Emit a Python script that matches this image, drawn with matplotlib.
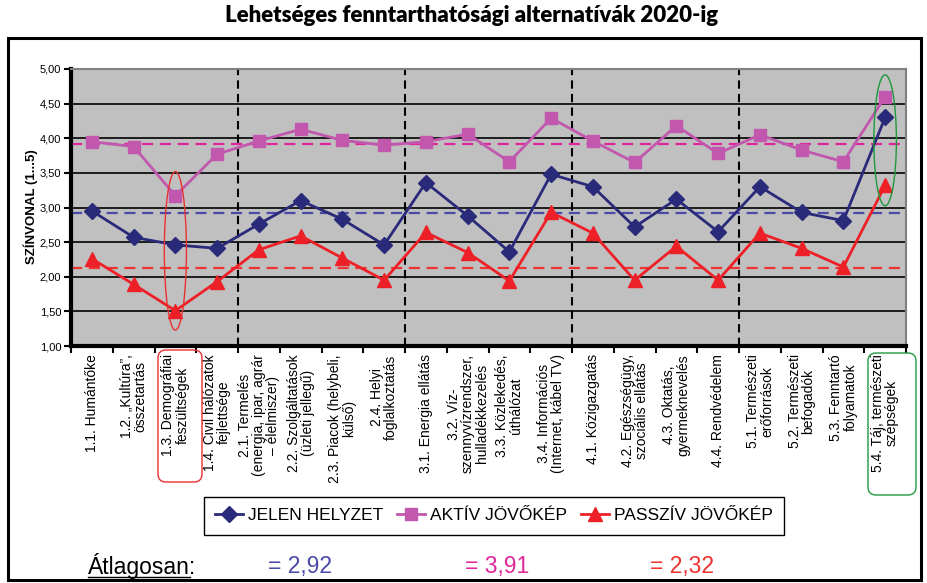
import numpy as np
import matplotlib
matplotlib.use('Agg')
import matplotlib.pyplot as plt
from matplotlib.patches import FancyBboxPatch, Ellipse, Rectangle
from matplotlib.lines import Line2D
from matplotlib.transforms import IdentityTransform

W, H = 927, 583

categories = [
    "1.1. Humántőke",
    "1.2. „Kultúra”,\nösszetartás",
    "1.3. Demográfiai\nfeszültségek",
    "1.4. Civil hálózatok\nfejlettsége",
    "2.1. Termelés\n(energia, ipar, agrár\n– élelmiszer)",
    "2.2. Szolgáltatások\n(üzleti jellegű)",
    "2.3. Piacok (helybeli,\nkülső)",
    "2.4. Helyi\nfoglalkoztatás",
    "3.1. Energia ellátás",
    "3.2. Víz-\nszennyvízrendszer,\nhulladékkezelés",
    "3.3. Közlekedés,\núthálózat",
    "3.4. Információs\n(Internet, kábel TV)",
    "4.1. Közigazgatás",
    "4.2. Egészségügy,\nszociális ellátás",
    "4.3. Oktatás,\ngyermeknevelés",
    "4.4. Rendvédelem",
    "5.1. Természeti\nerőforrások",
    "5.2. Természeti\nbefogadók",
    "5.3. Fenntartó\nfolyamatok",
    "5.4. Táj, természeti\nszépségek",
]

jelen = [2.95, 2.57, 2.46, 2.41, 2.76, 3.10, 2.83, 2.46, 3.36, 2.88,
         2.36, 3.48, 3.30, 2.72, 3.12, 2.65, 3.30, 2.93, 2.81, 4.30]
aktiv = [3.95, 3.88, 3.17, 3.77, 3.96, 4.13, 3.97, 3.90, 3.95, 4.06,
         3.66, 4.29, 3.96, 3.65, 4.18, 3.78, 4.05, 3.83, 3.66, 4.60]
passziv = [2.26, 1.89, 1.51, 1.93, 2.39, 2.59, 2.27, 1.95, 2.64, 2.35,
           1.94, 2.93, 2.63, 1.95, 2.44, 1.95, 2.63, 2.41, 2.14, 3.32]

series_names = ["JELEN HELYZET", "AKTÍV JÖVŐKÉP", "PASSZÍV JÖVŐKÉP"]
avg_levels = [2.92, 3.91, 2.13]
avg_texts = ["= 2,92", "= 3,91", "= 2,32"]
group_bounds = [4, 8, 12, 16]

line_colors = ['#2A2A7A', '#C257AE', '#EE2027']
avg_colors = ['#4A4AA8', '#E0259A', '#EE3333']
markers = ['D', 's', '^']
msizes = [8, 9, 10]

sans = ['Liberation Sans', 'DejaVu Sans']


def px(x, y):
    return (x / W, 1 - y / H)


fig = plt.figure(figsize=(W / 100, H / 100), dpi=100)
fig.patch.set_facecolor('white')

# outer frame
fig.add_artist(Rectangle((8, H - 580), 913, 542, transform=IdentityTransform(),
                         fill=False, ec='black', lw=2.2))

fig.text(*px(472, 16), "Lehetséges fenntarthatósági alternatívák 2020-ig",
         ha='center', va='center', fontsize=16, fontweight='heavy',
         family=['Lato', 'DejaVu Sans'])

x0, y0 = px(71, 346)
x1, y1 = px(906, 69)
ax = fig.add_axes([x0, y0, x1 - x0, y1 - y0])
ax.set_facecolor('#C0C0C0')

x = np.arange(len(categories)) + 0.5
ax.set_xlim(0, len(categories))
ax.set_ylim(1, 5)

yt = np.arange(1, 5.01, 0.5)
ax.set_yticks(yt)
ax.set_yticklabels([f"{v:.2f}".replace('.', ',') for v in yt], family=sans, fontsize=8)
for v in yt[1:-1]:
    ax.axhline(v, color='black', lw=1.2, zorder=1)
for b in group_bounds:
    ax.axvline(b, color='black', lw=1.5, ls=(0, (4, 2.5)), zorder=1)

for lvl, c in zip(avg_levels, avg_colors):
    ax.axhline(lvl, color=c, lw=1.6, ls=(0, (5, 3)), zorder=2)

handles = []
for vals, name, c, m, ms in zip([jelen, aktiv, passziv], series_names,
                                line_colors, markers, msizes):
    h, = ax.plot(x, vals, color=c, lw=2, marker=m, markersize=ms,
                 markeredgecolor=c, label=name, zorder=3)
    handles.append(h)

# highlight ellipses
ax.add_patch(Ellipse((2.5, 2.375), 0.53, 2.29, fill=False, ec='#E8312F', lw=1, zorder=4))
ax.add_patch(Ellipse((19.5, 3.97), 0.54, 1.89, fill=False, ec='#1E9A3C', lw=1, zorder=4))

ax.set_xticks(np.arange(len(categories) + 1))
ax.set_xticklabels([])
ax.set_xticks(x, minor=True)
ax.set_xticklabels(categories, minor=True, rotation=90, family=sans, fontsize=10,
                   linespacing=1.0)
for lbl in ax.get_xticklabels(minor=True):
    lbl.set_multialignment('center')
ax.tick_params(axis='x', which='minor', length=0, pad=6)
ax.tick_params(axis='x', which='major', direction='out', length=5, width=1.5)
ax.tick_params(axis='y', which='major', direction='out', length=5, width=1.5, pad=2)

for s in ['left', 'bottom']:
    ax.spines[s].set_linewidth(3)
    ax.spines[s].set_color('black')
for s in ['top', 'right']:
    ax.spines[s].set_linewidth(1.5)
    ax.spines[s].set_color('#808080')

fig.text(*px(31, 207), "SZÍNVONAL (1...5)", rotation=90, ha='center', va='center',
         fontsize=9.5, fontweight='bold', family=sans)

# rounded boxes around highlighted category labels
fig.add_artist(FancyBboxPatch((158, H - 482), 44, 132, transform=IdentityTransform(),
                              boxstyle='round,pad=0,rounding_size=8',
                              fill=False, ec='#E8312F', lw=1))
fig.add_artist(FancyBboxPatch((868, H - 495), 48, 142, transform=IdentityTransform(),
                              boxstyle='round,pad=0,rounding_size=8',
                              fill=False, ec='#1E9A3C', lw=1))

leg = fig.legend(handles=handles, loc='upper left', bbox_to_anchor=px(204, 497), ncol=3,
                 frameon=True, fancybox=False, edgecolor='black', framealpha=1,
                 prop={'family': sans, 'size': 12.5}, handlelength=1.6,
                 handletextpad=0.3, columnspacing=0.8, borderpad=0.65,
                 borderaxespad=0)
leg.get_frame().set_linewidth(1)

fig.text(*px(88, 566), "Átlagosan:", ha='left', va='center', fontsize=16.5, family=sans)
fig.add_artist(Line2D([88 / W, 190 / W], [1 - 577 / H, 1 - 577 / H], color='black', lw=1))
for xp, t, c in zip([268, 465, 650], avg_texts, avg_colors):
    fig.text(*px(xp, 566), t, ha='left', va='center', fontsize=16.5, family=sans, color=c)

fig.savefig('out.png', dpi=100)
